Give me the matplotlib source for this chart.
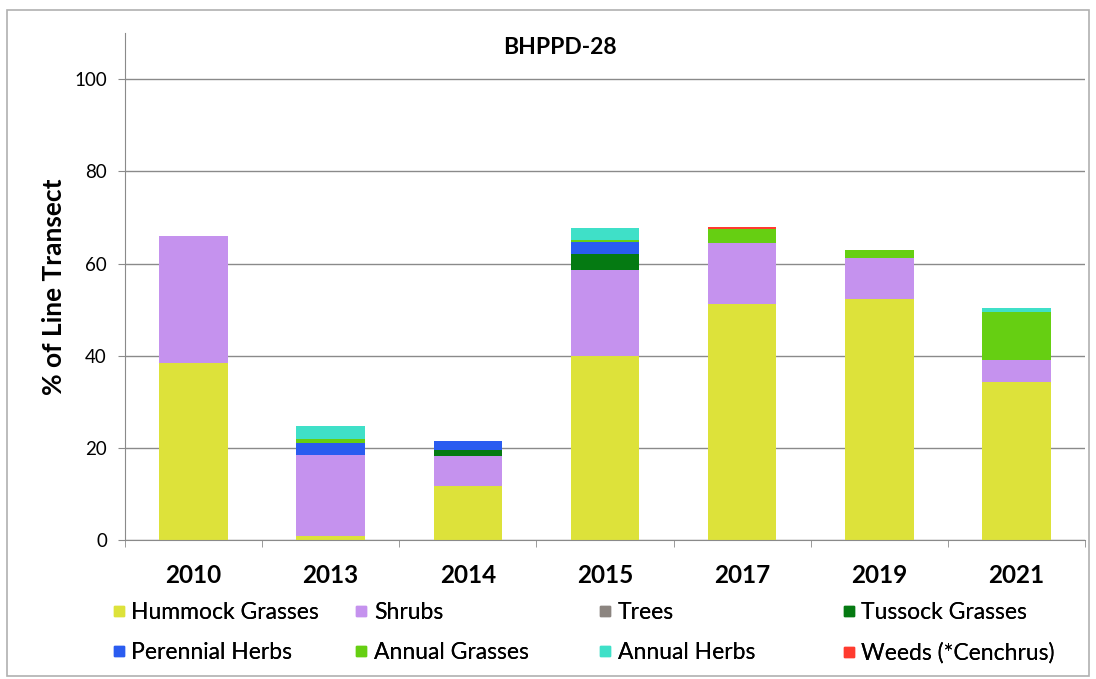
import matplotlib
matplotlib.use("Agg")
import matplotlib.pyplot as plt
from matplotlib.lines import Line2D
from matplotlib.patches import Rectangle
import numpy as np

years = ["2010", "2013", "2014", "2015", "2017", "2019", "2021"]
categories = ["Hummock Grasses", "Shrubs", "Trees", "Tussock Grasses",
              "Perennial Herbs", "Annual Grasses", "Annual Herbs", "Weeds (*Cenchrus)"]
hummock = [38.5, 0.9, 11.7, 39.9, 51.3, 52.4, 34.3]
shrubs = [27.6, 17.6, 6.6, 18.8, 13.2, 8.8, 4.8]
trees = [0, 0, 0, 0, 0, 0, 0]
tussock = [0, 0, 1.3, 3.3, 0, 0, 0]
perennial_herbs = [0, 2.5, 1.9, 2.6, 0, 0, 0]
annual_grasses = [0, 1.0, 0, 0.5, 3.0, 1.8, 10.3]
annual_herbs = [0, 2.8, 0, 2.7, 0, 0, 1.0]
weeds = [0, 0, 0, 0, 0.4, 0, 0]
colors = ["#dde23a", "#c592ee", "#8c8580", "#057a12",
          "#2a5cf0", "#66cf12", "#3fe0c8", "#ff3b2f"]

series = [hummock, shrubs, trees, tussock, perennial_herbs,
          annual_grasses, annual_herbs, weeds]

plt.rcParams['font.family'] = ['Lato', 'DejaVu Sans']

fig = plt.figure(figsize=(10.96, 6.79), dpi=100)
ax = fig.add_axes([0.114, 0.2047, 0.876, 0.7463])

x = np.arange(len(years))
bottom = np.zeros(len(years))
for vals, col, name in zip(series, colors, categories):
    v = np.array(vals, dtype=float)
    ax.bar(x, v, bottom=bottom, width=0.5, color=col, label=name, linewidth=0)
    bottom += v

ax.set_xlim(-0.5, len(years) - 0.5)
ax.set_ylim(0, 110)
ax.set_yticks([0, 20, 40, 60, 80, 100])
ax.yaxis.grid(True, color="#8a8a8a", linewidth=1.0)
ax.set_axisbelow(True)
for s in ["top", "right"]:
    ax.spines[s].set_visible(False)
ax.spines["left"].set_color("#8a8a8a")
ax.spines["bottom"].set_color("#8a8a8a")
ax.set_xticks(x)
ax.set_xticklabels(years, fontsize=17.5, fontweight="bold")
ax.tick_params(axis="x", length=0, pad=17)
ax.set_xticks(np.arange(len(years) + 1) - 0.5, minor=True)
ax.tick_params(axis="x", which="minor", length=5, color="#8a8a8a")
ax.tick_params(axis="y", labelsize=13.5, length=5, color="#8a8a8a", pad=8)
ax.set_ylabel("% of Line Transect", fontsize=19, fontweight="bold", labelpad=6)
fig.text(0.511, 0.945, "BHPPD-28", ha="center", va="top",
         fontsize=16.5, fontweight="bold")

# legend: 4 columns of two entries each, placed at the reference positions
col_x = [0.102, 0.3235, 0.546, 0.768]
for c in range(4):
    idx = [c, c + 4]
    handles = [Line2D([], [], marker="s", linestyle="none", markersize=7,
                      markerfacecolor=colors[i], markeredgecolor=colors[i]) for i in idx]
    leg = fig.legend(handles, [categories[i] for i in idx], loc="upper left",
                     bbox_to_anchor=(col_x[c], 0.113), frameon=False, fontsize=16.5,
                     handlelength=0.6, handletextpad=0.25, labelspacing=0.82,
                     borderaxespad=0, borderpad=0)
    fig.add_artist(leg)

fig.add_artist(Rectangle((0.006, 0.005), 0.988, 0.98, transform=fig.transFigure,
                         fill=False, edgecolor="#b0b0b0", linewidth=1.2))

fig.savefig("out.png", dpi=100)
